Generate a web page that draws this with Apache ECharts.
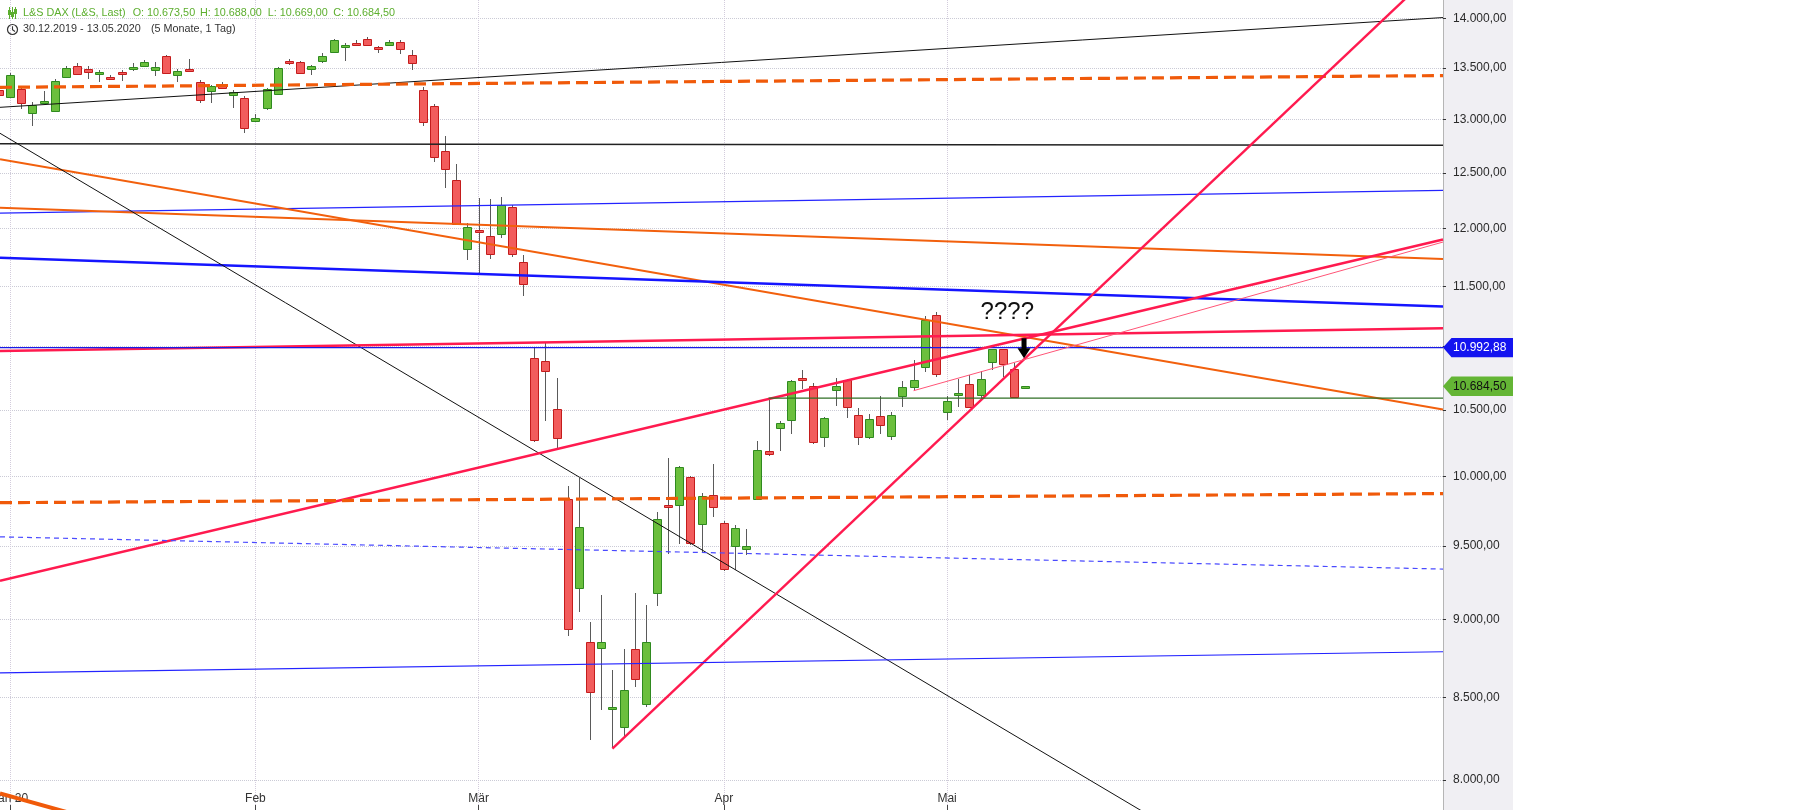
<!DOCTYPE html>
<html>
<head>
<meta charset="utf-8">
<script src="https://cdn.jsdelivr.net/npm/echarts@6/dist/echarts.min.js"></script>
<style>
html,body{margin:0;padding:0;background:#ffffff;}
#c{width:1813px;height:810px;}
</style>
</head>
<body>
<div id="c"></div>
<script>
// ---------------- DATA ----------------
const dates = [
 '30.12.2019','31.12.2019',
 '02.01.2020','03.01.2020','06.01.2020','07.01.2020','08.01.2020','09.01.2020','10.01.2020','13.01.2020','14.01.2020','15.01.2020','16.01.2020','17.01.2020','20.01.2020','21.01.2020','22.01.2020','23.01.2020','24.01.2020','27.01.2020','28.01.2020','29.01.2020','30.01.2020','31.01.2020',
 '03.02.2020','04.02.2020','05.02.2020','06.02.2020','07.02.2020','10.02.2020','11.02.2020','12.02.2020','13.02.2020','14.02.2020','17.02.2020','18.02.2020','19.02.2020','20.02.2020','21.02.2020','24.02.2020','25.02.2020','26.02.2020','27.02.2020','28.02.2020',
 '02.03.2020','03.03.2020','04.03.2020','05.03.2020','06.03.2020','09.03.2020','10.03.2020','11.03.2020','12.03.2020','13.03.2020','16.03.2020','17.03.2020','18.03.2020','19.03.2020','20.03.2020','23.03.2020','24.03.2020','25.03.2020','26.03.2020','27.03.2020','30.03.2020','31.03.2020',
 '01.04.2020','02.04.2020','03.04.2020','06.04.2020','07.04.2020','08.04.2020','09.04.2020','14.04.2020','15.04.2020','16.04.2020','17.04.2020','20.04.2020','21.04.2020','22.04.2020','23.04.2020','24.04.2020','27.04.2020','28.04.2020','29.04.2020','30.04.2020',
 '04.05.2020','05.05.2020','06.05.2020','07.05.2020','08.05.2020','11.05.2020','12.05.2020','13.05.2020'
];
const opens = [
 13330,13283,
 13214,13299,13066,13161,13083,13417,13522,13490,13448,13414,13466,13487,13517,13478,13623,13431,13492,13365,13271,13324,13236,13207,
 12983,13106,13246,13573,13560,13489,13576,13659,13719,13755,13792,13709,13731,13762,13633,13287,13131,12705,12435,11819,
 11985,11933,11948,12189,11706,10908,10887,10505,9837,9213,8854,8815,8431,8318,8805,8458,9179,9795,9789,9993,9656,9861,
 9663,9503,9478,9837,10186,10362,10422,10750,10690,10296,10652,10735,10460,10294,10455,10299,10605,10679,10837,11262,
 10483,10622,10703,10613,10877,10979,10821,10673.5
];
const highs = [
 13345,13300,
 13450,13317,13164,13278,13392,13517,13550,13522,13478,13437,13482,13550,13583,13560,13633,13492,13593,13385,13336,13363,13287,13229,
 13053,13307,13515,13593,13573,13532,13651,13795,13755,13785,13810,13724,13778,13785,13684,13314,13151,12845,12580,12048,
 12270,12261,12276,12210,11769,10987,11028,10750,9926,9986,8986,9167,8670,8811,9181,9100,9742,10136,10078,10002,9878,10093,
 9680,9651,9623,10266,10587,10419,10737,10816,10711,10443,10747,10741,10518,10470,10605,10485,10724,10895,11248,11281,
 10605,10742,10771,10802,10982,10982,10869,10688
];
const lows = [
 13240,13225,
 13205,13102,12942,13151,13076,13409,13429,13395,13359,13385,13375,13473,13507,13427,13443,13365,13468,13161,13158,13297,13115,12876,
 12977,13092,13239,13532,13439,13437,13550,13649,13573,13719,13724,13651,13719,13640,13482,12942,12604,12366,12030,11720,
 11614,11735,11919,11746,11422,10259,10419,10211,8890,9054,8237,8423,8187,8252,8568,8439,9088,9444,9515,9511,9462,9704,
 9326,9337,9439,9830,10153,10186,10317,10666,10241,10218,10532,10442,10231,10282,10319,10273,10521,10658,10795,10758,
 10425,10521,10516,10579,10816,10758,10595,10669
];
const closes = [
 13265,13234,
 13431,13158,13141,13175,13375,13497,13441,13460,13458,13406,13448,13509,13563,13507,13450,13473,13476,13183,13320,13304,13265,12917,
 13012,13294,13499,13553,13450,13522,13623,13785,13734,13731,13734,13694,13765,13691,13550,12974,12642,12533,12039,12009,
 11971,11775,12204,11775,11516,10272,10806,10287,8938,9635,8532,8854,8439,8545,8616,8854,9692,9787,10068,9520,9857,9775,
 9342,9628,9504,10196,10166,10400,10729,10739,10253,10437,10690,10526,10294,10432,10382,10460,10679,10737,11221,10782,
 10566,10630,10521,10742,10979,10861,10600,10684.5
];
const monthLabels = ['Jan 20','Feb','Mär','Apr','Mai'];
const yTickValues = [8000,8500,9000,9500,10000,10500,11000,11500,12000,12500,13000,13500,14000];
const lastPrice = 10684.5;
const blueLevel = 10992.88;

// trend lines: [tradingDayIndex, price]
const lineBlackTop      = [[1.1,13117],[130.46,14012]];
const lineOrangeDashTop = [[1.1,13311],[130.46,13427]];
const lineBlackFlat     = [[1.1,12771],[130.46,12756]];
const lineBlueThinTop   = [[1.1,12136],[130.46,12340]];
const lineOrangeMild    = [[1.1,12184],[130.46,11733]];
const lineOrangeSteep   = [[1.1,12625],[130.46,10504]];
const lineBlueThick     = [[1.1,11744],[130.46,11330]];
const lineBlackDiag     = [[1.1,12869],[117.65,7297]];
const lineRedFlat       = [[1.1,10965],[130.46,11150]];
const lineBlueLevel     = [[1.1,blueLevel],[130.46,blueLevel]];
const lineRedRise       = [[1.1,9261],[130.46,11902]];
const lineRedSteep      = [[56,8185],[130.46,14584]];
const lineRedThin       = [[83,10650],[130.46,11880]];
const lineOrangeDashLow = [[1.1,9808],[130.46,9874]];
const lineBlueDash      = [[1.1,9565],[130.46,9341]];
const lineBlueThinLow   = [[1.1,8654],[130.46,8790]];
const lineOrangeLowLeft = [[1.1,7921],[10.07,7759]];
const lineGreenSupport  = [[70,10592],[130.46,10592]];
const questionAt = [91.4, 11279];
const arrowTipAt = [92.9, 10908];

// ---------------- LAYOUT / STYLE ----------------
const X_MIN = 1.1, X_MAX = 130.46;
const Y_MIN = 7824.5, Y_MAX = 14194;
const UP_FILL = '#6bbf3d', UP_BORDER = '#2f8a1f';
const DN_FILL = '#f25c5c', DN_BORDER = '#c41c1c';
const FONT = "'Liberation Sans', Arial, sans-serif";

function fmtDE(v) {
  const s = (Math.round(v * 100) / 100).toFixed(2);
  let parts = s.split('.');
  const intPart = parts[0].replace(/\B(?=(\d{3})+(?!\d))/g, '.');
  return intPart + ',' + parts[1];
}

const monthStarts = [];
for (let i = 1; i < dates.length; i++) {
  if (dates[i].slice(3, 5) !== dates[i - 1].slice(3, 5)) monthStarts.push(i);
}

const candleData = dates.map((d, i) => [i, opens[i], closes[i], lows[i], highs[i]]);

function renderCandle(params, api) {
  const i = api.value(0), o = api.value(1), c = api.value(2), l = api.value(3), h = api.value(4);
  const po = api.coord([i, o]), pc = api.coord([i, c]), pl = api.coord([i, l]), ph = api.coord([i, h]);
  const bw = Math.round(api.size([1, 0])[0] * 0.72);
  const cx = Math.round(po[0]) + 0.5;
  const up = c >= o;
  let top = Math.round(Math.min(po[1], pc[1]));
  let bot = Math.round(Math.max(po[1], pc[1]));
  if (bot - top < 2) bot = top + 2;
  return {
    type: 'group',
    children: [
      {type: 'line', shape: {x1: cx, y1: Math.round(ph[1]), x2: cx, y2: Math.round(pl[1])},
       style: {stroke: '#5a5a5a', lineWidth: 1}},
      {type: 'rect', shape: {x: cx - bw / 2, y: top + 0.5, width: bw, height: bot - top},
       style: {fill: up ? UP_FILL : DN_FILL, stroke: up ? UP_BORDER : DN_BORDER, lineWidth: 1}}
    ]
  };
}

function trend(name, pts, color, width, type, z) {
  return {
    type: 'line', name: name, data: pts, symbol: 'none', silent: true,
    z: z || 3, animation: false, clip: true,
    lineStyle: {color: color, width: width, type: type || 'solid'}
  };
}

function txt(x, y, text, color, size, align) {
  return {
    type: 'text', x: x, y: y, silent: true, z: 20,
    style: {text: text, fill: color, font: size + 'px ' + FONT,
            textAlign: align || 'left', textVerticalAlign: 'middle',
            align: align || 'left', verticalAlign: 'middle'}
  };
}

const HDR = 10.8;
const headerGraphics = [
  {type: 'rect', shape: {x: 1444, y: 0, width: 69, height: 810}, style: {fill: '#f0eff3'}, z: -5, silent: true},
  // candlestick icon
  {type: 'line', shape: {x1: 9.5, y1: 7, x2: 9.5, y2: 19}, style: {stroke: '#5cae2e', lineWidth: 1}, z: 20},
  {type: 'rect', shape: {x: 8, y: 10, width: 3, height: 5}, style: {fill: '#5cae2e'}, z: 20},
  {type: 'line', shape: {x1: 12.5, y1: 7, x2: 12.5, y2: 19}, style: {stroke: '#5cae2e', lineWidth: 1}, z: 20},
  {type: 'rect', shape: {x: 11, y: 12, width: 3, height: 5}, style: {fill: '#5cae2e'}, z: 20},
  {type: 'line', shape: {x1: 15.5, y1: 7, x2: 15.5, y2: 19}, style: {stroke: '#5cae2e', lineWidth: 1}, z: 20},
  {type: 'rect', shape: {x: 14, y: 9, width: 3, height: 5}, style: {fill: '#5cae2e'}, z: 20},
  // clock icon
  {type: 'circle', shape: {cx: 12.5, cy: 29.5, r: 5}, style: {fill: 'none', stroke: '#333', lineWidth: 1.2}, z: 20},
  {type: 'polyline', shape: {points: [[12.5, 26.2], [12.5, 29.8], [15, 31.5]]}, style: {fill: 'none', stroke: '#333', lineWidth: 1.1}, z: 20},
  txt(23, 13.5, 'L&S DAX (L&S, Last)', '#5cae2e', HDR),
  txt(132.7, 13.5, 'O: 10.673,50', '#5cae2e', HDR),
  txt(200, 13.5, 'H: 10.688,00', '#5cae2e', HDR),
  txt(267.7, 13.5, 'L: 10.669,00', '#5cae2e', HDR),
  txt(333.3, 13.5, 'C: 10.684,50', '#5cae2e', HDR),
  txt(23, 29.5, '30.12.2019 - 13.05.2020', '#333333', HDR),
  txt(151, 29.5, '(5 Monate, 1 Tag)', '#333333', HDR)
];

const option = {
  animation: false,
  backgroundColor: '#ffffff',
  textStyle: {fontFamily: FONT},
  grid: {left: 0, right: 370, top: 0, bottom: 0, containLabel: false, outerBoundsMode: 'none'},
  xAxis: {
    type: 'value', min: X_MIN, max: X_MAX, position: 'bottom',
    axisLine: {show: false},
    axisTick: {show: true, inside: true, length: 5, customValues: monthStarts, lineStyle: {color: '#444', width: 1}},
    axisLabel: {
      show: true, inside: true, margin: 5, customValues: monthStarts,
      color: '#333', fontSize: 12, fontFamily: FONT, hideOverlap: false,
      formatter: function (v) {
        const k = monthStarts.indexOf(Math.round(v));
        return k >= 0 ? monthLabels[k] : '';
      }
    },
    splitLine: {show: true, lineStyle: {color: '#d3ccdc', type: 'dotted', width: 1}}
  },
  yAxis: {
    type: 'log', logBase: 10, position: 'right', min: Y_MIN, max: Y_MAX,
    axisLine: {show: true, lineStyle: {color: '#b5b5b5', width: 1}},
    axisTick: {show: true, length: 3, customValues: yTickValues, lineStyle: {color: '#333'}},
    axisLabel: {
      show: true, margin: 10, customValues: yTickValues, color: '#2a2a2a', fontSize: 12, fontFamily: FONT,
      formatter: function (v) { return fmtDE(Math.round(v)); }
    },
    splitLine: {show: true, lineStyle: {color: '#cbcbd6', type: 'dotted', width: 1}}
  },
  series: [
    {
      type: 'custom', name: 'DAX', data: candleData, renderItem: renderCandle,
      encode: {x: 0, y: [1, 2, 3, 4]}, z: 1, clip: true, silent: true
    },
    trend('blackTop', lineBlackTop, '#111111', 1),
    trend('orangeDashTop', lineOrangeDashTop, '#f05a0a', 3.2, [12, 6]),
    trend('blackFlat', lineBlackFlat, '#222222', 1.4),
    trend('blueThinTop', lineBlueThinTop, '#2323ff', 1.2),
    trend('orangeMild', lineOrangeMild, '#f2600d', 2),
    trend('orangeSteep', lineOrangeSteep, '#f2600d', 2),
    trend('blueThick', lineBlueThick, '#1515ff', 2.5),
    trend('blackDiag', lineBlackDiag, '#111111', 1),
    trend('redFlat', lineRedFlat, '#ff1a4f', 2.4),
    trend('blueLevel', lineBlueLevel, '#1a1ae6', 1.2),
    trend('redRise', lineRedRise, '#ff1a4f', 2.4),
    trend('redSteep', lineRedSteep, '#ff1a4f', 2.4),
    trend('redThin', lineRedThin, '#ff5577', 1),
    trend('orangeDashLow', lineOrangeDashLow, '#f05a0a', 3.2, [12, 6]),
    trend('blueDash', lineBlueDash, '#4a4aff', 1.2, [5, 4]),
    trend('blueThinLow', lineBlueThinLow, '#2323ff', 1.2),
    trend('orangeLowLeft', lineOrangeLowLeft, '#f05a0a', 4),
    trend('greenSupport', lineGreenSupport, '#2f6f25', 1.2)
  ],
  graphic: {elements: headerGraphics}
};

const chart = echarts.init(document.getElementById('c'), null, {renderer: 'canvas', width: 1813, height: 810});
chart.setOption(option);

// price tags, annotation and arrow placed through the axis scales
const yBlue = chart.convertToPixel({yAxisIndex: 0}, blueLevel);
const yLast = chart.convertToPixel({yAxisIndex: 0}, lastPrice);
const xAxisPx = chart.convertToPixel({xAxisIndex: 0}, X_MAX);
const qPx = chart.convertToPixel({gridIndex: 0}, questionAt);
const aPx = chart.convertToPixel({gridIndex: 0}, arrowTipAt);

function tag(yc, fill, textColor, label) {
  const x0 = xAxisPx, h = 9.7;
  return [
    {type: 'polygon', z: 30, silent: true,
     shape: {points: [[x0, yc], [x0 + 8.5, yc - h], [1513, yc - h], [1513, yc + h], [x0 + 8.5, yc + h]]},
     style: {fill: fill}},
    {type: 'text', z: 31, silent: true, x: 1453, y: yc,
     style: {text: label, fill: textColor, font: '12px ' + FONT, textAlign: 'left', textVerticalAlign: 'middle', align: 'left', verticalAlign: 'middle'}}
  ];
}

const extra = [].concat(
  tag(yBlue, '#1414f0', '#ffffff', fmtDE(blueLevel)),
  tag(yLast, '#64b535', '#111111', fmtDE(lastPrice)),
  [
    {type: 'text', z: 25, silent: true, x: qPx[0], y: qPx[1],
     style: {text: '????', fill: '#111111', font: '24px ' + FONT, textAlign: 'center', textVerticalAlign: 'middle', align: 'center', verticalAlign: 'middle'}},
    {type: 'polygon', z: 25, silent: true,
     shape: {points: [
       [aPx[0] - 2.5, aPx[1] - 20], [aPx[0] + 2.5, aPx[1] - 20], [aPx[0] + 2.5, aPx[1] - 10],
       [aPx[0] + 6.5, aPx[1] - 10], [aPx[0], aPx[1]], [aPx[0] - 6.5, aPx[1] - 10], [aPx[0] - 2.5, aPx[1] - 10]
     ]},
     style: {fill: '#000000'}}
  ]
);

chart.setOption({graphic: {elements: headerGraphics.concat(extra)}});
</script>
</body>
</html>
